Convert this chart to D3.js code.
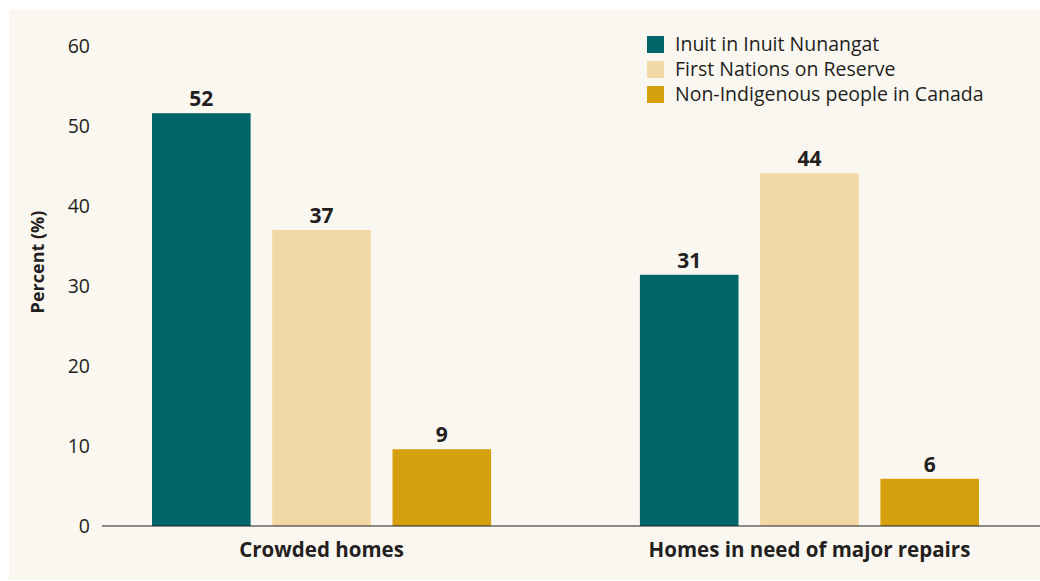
<!DOCTYPE html>
<html>
<head>
<meta charset="utf-8">
<script src="https://cdn.jsdelivr.net/npm/d3@7"></script>
<style>
  body { margin: 0; background: #ffffff; }
  svg { display: block; font-family: "Open Sans", sans-serif; }
</style>
</head>
<body>
<div id="chart"></div>
<script>
// categories and series
const categories = ["Crowded homes", "Homes in need of major repairs"];
const seriesNames = ["Inuit in Inuit Nunangat", "First Nations on Reserve", "Non-Indigenous people in Canada"];
const seriesColors = ["#00666a", "#f2d8a5", "#d4a00e"];

// bar heights, one array per series (crowded, repairs)
const inuitValues = [51.6, 31.4];
const firstNationsValues = [37.0, 44.1];
const nonIndigenousValues = [9.6, 5.9];
// printed labels above the bars
const inuitLabels = ["52", "31"];
const firstNationsLabels = ["37", "44"];
const nonIndigenousLabels = ["9", "6"];

const yTicks = [0, 10, 20, 30, 40, 50, 60];

const width = 1040, height = 581;

const svg = d3.select("#chart")
  .append("svg")
  .attr("width", width)
  .attr("height", height);

// cream panel
svg.append("rect")
  .attr("x", 9).attr("y", 10)
  .attr("width", width - 9).attr("height", 570)
  .attr("fill", "#faf7f0");

// build rows for the grouped bars
const valueSets = [inuitValues, firstNationsValues, nonIndigenousValues];
const labelSets = [inuitLabels, firstNationsLabels, nonIndigenousLabels];
const rows = [];
categories.forEach((c, ci) => {
  seriesNames.forEach((s, si) => {
    rows.push({ category: c, series: s, value: valueSets[si][ci], label: labelSets[si][ci], color: seriesColors[si] });
  });
});

// scales
const y = d3.scaleLinear().domain([0, 60]).range([526, 46]);

const x0 = d3.scaleBand()
  .domain(categories)
  .range([152, 979])
  .paddingInner(0.305)
  .paddingOuter(0);

const x1 = d3.scaleBand()
  .domain(seriesNames)
  .range([0, x0.bandwidth()])
  .paddingInner(0.18);

// y axis labels (no line, no ticks)
const yAxis = svg.append("g")
  .attr("transform", "translate(90,0)")
  .call(d3.axisLeft(y).tickValues(yTicks).tickSize(0).tickPadding(0));
yAxis.select(".domain").remove();
yAxis.selectAll("text")
  .attr("font-family", "Open Sans, sans-serif")
  .attr("font-size", 19.5)
  .attr("fill", "#231f20");

// y axis title
svg.append("text")
  .attr("transform", "translate(44,262) rotate(-90)")
  .attr("text-anchor", "middle")
  .attr("font-size", 18)
  .attr("font-weight", "bold")
  .attr("fill", "#231f20")
  .text("Percent (%)");

// bars
svg.append("g")
  .selectAll("rect")
  .data(rows)
  .enter()
  .append("rect")
  .attr("x", d => x0(d.category) + x1(d.series))
  .attr("y", d => y(d.value))
  .attr("width", x1.bandwidth())
  .attr("height", d => y(0) - y(d.value))
  .attr("fill", d => d.color);

// value labels
svg.append("g")
  .selectAll("text")
  .data(rows)
  .enter()
  .append("text")
  .attr("x", d => x0(d.category) + x1(d.series) + x1.bandwidth() / 2)
  .attr("y", d => y(d.value) - 7)
  .attr("text-anchor", "middle")
  .attr("font-size", 21)
  .attr("font-weight", "bold")
  .attr("fill", "#231f20")
  .text(d => d.label);

// x axis: baseline and category labels
const xAxis = svg.append("g")
  .attr("transform", "translate(0," + y(0) + ")")
  .call(d3.axisBottom(x0).tickSize(0).tickPadding(0));
xAxis.select(".domain").remove();
xAxis.append("line")
  .attr("x1", 102).attr("x2", width)
  .attr("y1", 0).attr("y2", 0)
  .attr("stroke", "#231f20")
  .attr("stroke-width", 1.2);
xAxis.selectAll(".tick text")
  .attr("dy", 0)
  .attr("y", 31)
  .attr("font-family", "Open Sans, sans-serif")
  .attr("font-size", 20.5)
  .attr("font-weight", "bold")
  .attr("fill", "#231f20");

// legend
const legend = svg.append("g")
  .attr("transform", "translate(647,36)");
const legendItem = legend.selectAll("g")
  .data(seriesNames)
  .enter()
  .append("g")
  .attr("transform", (d, i) => "translate(0," + i * 25 + ")");
legendItem.append("rect")
  .attr("width", 17).attr("height", 17)
  .attr("fill", (d, i) => seriesColors[i]);
legendItem.append("text")
  .attr("x", 28)
  .attr("y", 15)
  .attr("font-size", 19.5)
  .attr("fill", "#231f20")
  .text(d => d);
</script>
</body>
</html>
